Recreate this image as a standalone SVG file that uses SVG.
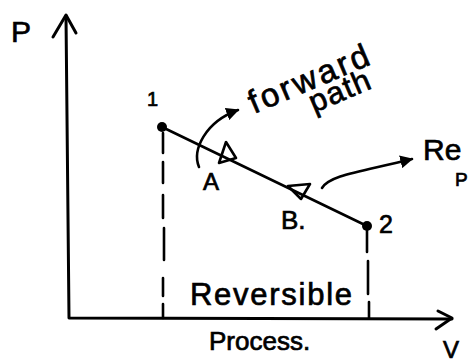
<svg xmlns="http://www.w3.org/2000/svg" width="468" height="362" viewBox="0 0 468 362">
<style>
.ln{stroke:#000;stroke-width:2.6;fill:none;stroke-linecap:round;stroke-linejoin:round}
.ax{stroke:#000;stroke-width:3;fill:none;stroke-linecap:round;stroke-linejoin:round}
.t{font-family:"Liberation Sans","DejaVu Sans",sans-serif;fill:#000;stroke:#000;stroke-width:0.7}
</style>
<defs>
<marker id="ah" viewBox="0 0 10 10" refX="9" refY="5" markerWidth="5" markerHeight="5" orient="auto" markerUnits="strokeWidth">
<path d="M0,0 L10,5 L0,10 Z" fill="#000"/>
</marker>
</defs>
<rect width="468" height="362" fill="#fff"/>
<g id="axes">
<path class="ax" d="M66,16 L69,318 L452,319"/>
<path class="ax" d="M53,37 L66,15 L76,33"/>
<path class="ax" d="M438,311 L452,318 L436,329"/>
<text class="t" x="11" y="42" font-size="30">P</text>
<text class="t" x="443" y="358" font-size="24">V</text>
</g>
<g id="connectors">
<path class="ln" d="M162,127 L367,226"/>
<path class="ln" d="M163,133 V153 M163,162 V183 M163,195 V218 M164,228 V260 M163,278 V296 M163,304 V318"/>
<path class="ln" d="M367,231 V252 M368,261 V294 M369,302 V318"/>
<path class="ln" d="M199,167 C192,150 205,122 238,110" marker-end="url(#ah)"/>
<path class="ln" d="M322,188 C330,175 360,172 412,159" marker-end="url(#ah)"/>
</g>
<g id="point1">
<circle cx="162" cy="127" r="5"/>
<text class="t" x="147" y="106" font-size="20">1</text>
</g>
<g id="point2">
<circle cx="367" cy="226" r="5"/>
<text class="t" x="379" y="233" font-size="25">2</text>
</g>
<g id="markA">
<path class="ln" d="M226,142 L219,163 L236,158 Z"/>
<text class="t" x="203" y="190" font-size="24">A</text>
</g>
<g id="markB">
<path class="ln" d="M288,186 L310,184 L301,199 Z"/>
<text class="t" x="281" y="229" font-size="26">B.</text>
</g>
<g id="forward-label">
<text class="t" x="254" y="114" font-size="33" textLength="128" transform="rotate(-23 254 114)">forward</text>
<text class="t" x="314" y="113" font-size="31" textLength="64" transform="rotate(-23 314 113)">path</text>
</g>
<g id="reverse-label">
<text class="t" x="423" y="160" font-size="30">Re</text>
<text class="t" x="455" y="186" font-size="19">P</text>
</g>
<g id="bottom-labels">
<text class="t" x="190" y="305" font-size="31" textLength="162">Reversible</text>
<text class="t" x="209" y="350" font-size="26">Process.</text>
</g>
</svg>
